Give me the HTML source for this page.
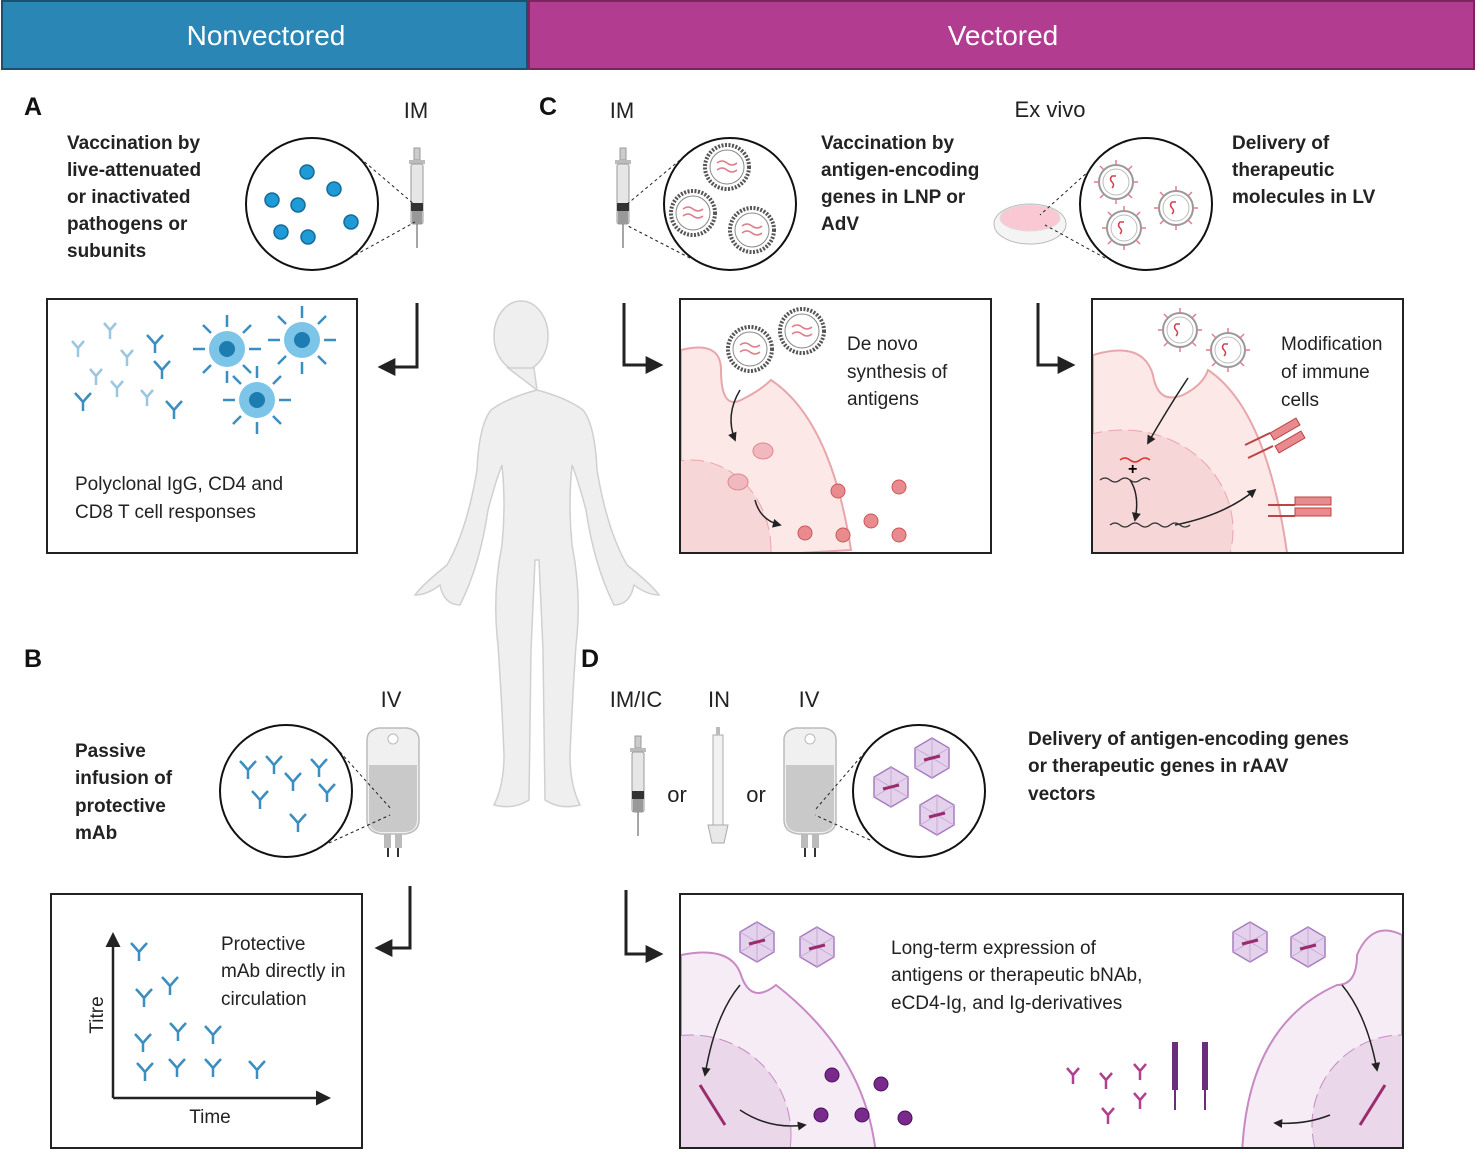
<!DOCTYPE html>
<html><head><meta charset="utf-8"><style>
html,body{margin:0;padding:0;background:#fff;width:1477px;height:1152px;overflow:hidden}
svg{display:block}
text{font-family:"Liberation Sans",sans-serif}
.b{font-weight:bold;font-size:19px;fill:#222}
.n{font-size:19px;fill:#222}
.l{font-size:22px;fill:#222}
.L{font-size:25px;font-weight:bold;fill:#111}
</style></head><body>
<svg width="1477" height="1152" viewBox="0 0 1477 1152" xmlns="http://www.w3.org/2000/svg">
<defs>
<g id="ab"><path d="M0 0 L0 9 M0 0 L-6 -7 M0 0 L6 -7 M-3 -3.5 L-8 -9 M3 -3.5 L8 -9" stroke="#3b8fc0" stroke-width="2.5" fill="none"/></g>
<g id="abl"><path d="M0 0 L0 9 M0 0 L-6 -7 M0 0 L6 -7" stroke="#9ac6df" stroke-width="2.5" fill="none"/></g>
<g id="abp"><path d="M0 0 L0 9 M0 0 L-6 -7 M0 0 L6 -7" stroke="#b1418f" stroke-width="2.5" fill="none"/></g>
<g id="lnp"><circle r="22" fill="#fff" stroke="#555" stroke-width="4" stroke-dasharray="2 1.5"/><circle r="17" fill="#fff" stroke="#888" stroke-width="1"/><path d="M-10 -4 q5 -4 10 0 t10 0 M-10 3 q5 -4 10 0 t10 0" stroke="#e07d8a" fill="none" stroke-width="1.5"/></g>
<g id="lv"><circle r="17" fill="#fff" stroke="#999" stroke-width="2"/><circle r="13" fill="#fff" stroke="#bbb"/><path d="M-4 6 q3 -3 0 -6 t0 -6 l4 0" stroke="#d04050" fill="none" stroke-width="1.5"/><path d="M0 -17 v-5 M0 17 v5 M-17 0 h-5 M17 0 h5 M12 12 l4 4 M-12 -12 l-4 -4 M12 -12 l4 -4 M-12 12 l-4 4" stroke="#e07d8a" stroke-width="1.5"/></g>
<g id="aav"><polygon points="0,-20 17,-10 17,10 0,20 -17,10 -17,-10" fill="#e4d2ec" stroke="#a87cc0" stroke-width="1.5"/><path d="M0 -20 L0 20 M-17 -10 L17 10 M17 -10 L-17 10" stroke="#c7a9d8" stroke-width="1"/><path d="M-8 2 L8 -2" stroke="#9a2c6e" stroke-width="3"/></g>
<g id="syr"><rect x="-3" y="-70" width="6" height="12" fill="#ccc" stroke="#999"/><rect x="-8" y="-58" width="16" height="4" fill="#bbb"/><rect x="-6" y="-54" width="12" height="60" rx="2" fill="#e6e6e6" stroke="#999"/><rect x="-6" y="-15" width="12" height="8" fill="#333"/><rect x="-5" y="-7" width="10" height="13" fill="#999"/><line x1="0" y1="6" x2="0" y2="30" stroke="#888" stroke-width="1.5"/></g>
<g id="bag"><path d="M-26 -55 q0 -10 12 -12 h28 q12 2 12 12 v80 q0 12 -14 14 h-24 q-14 -2 -14 -14z" fill="#f0f0f0" stroke="#bbb" stroke-width="1.5"/><circle cx="0" cy="-56" r="5" fill="#fff" stroke="#bbb"/><path d="M-24 -30 h48 v54 q0 12 -12 13 h-24 q-12 -1 -12 -13z" fill="#c9c9c9"/><rect x="-9" y="39" width="7" height="14" fill="#bbb"/><rect x="2" y="39" width="7" height="14" fill="#bbb"/><line x1="-5" y1="53" x2="-5" y2="62" stroke="#333" stroke-width="2"/><line x1="5" y1="53" x2="5" y2="62" stroke="#333" stroke-width="2"/></g>
<marker id="ah" viewBox="0 0 10 10" refX="8" refY="5" markerWidth="6" markerHeight="6" orient="auto"><path d="M0 0 L10 5 L0 10z" fill="#222"/></marker>
</defs>

<rect x="2" y="1" width="525" height="68" fill="#2a87b5" stroke="#1d4f70" stroke-width="2"/>
<text x="266" y="45" text-anchor="middle" style="font-size:28px;fill:#fff">Nonvectored</text>
<rect x="529" y="1" width="945" height="68" fill="#b23c8f" stroke="#7a2460" stroke-width="2"/>
<text x="1003" y="45" text-anchor="middle" style="font-size:28px;fill:#fff">Vectored</text>

<text x="24" y="115" class="L">A</text><text x="539" y="115" class="L">C</text>
<text x="24" y="667" class="L">B</text><text x="581" y="667" class="L">D</text>

<g fill="#efefef" stroke="#d0d0d0" stroke-width="1.5">
<ellipse cx="521" cy="336" rx="27" ry="35"/>
<path d="M508 368 h26 l3 22 q30 8 46 20 q12 15 14 60 q10 60 30 95 q25 20 32 30 q-12 0 -25 -10 q-4 20 -20 20 q-20 -40 -28 -95 q-8 -30 -14 -45 q-4 40 0 80 q10 50 4 100 q-4 60 -6 110 q0 30 10 50 q-20 5 -35 -5 l-2 -150 l-4 -90 h-4 l-4 90 l-2 150 q-15 10 -35 5 q10 -20 10 -50 q-2 -50 -6 -110 q-6 -50 4 -100 q4 -40 0 -80 q-6 15 -14 45 q-8 55 -28 95 q-16 0 -20 -20 q-13 10 -25 10 q7 -10 32 -30 q20 -35 30 -95 q2 -45 14 -60 q16 -12 46 -20z"/>
</g>

<text x="416" y="118" class="l" text-anchor="middle">IM</text>
<text class="b"><tspan x="67" y="149">Vaccination by</tspan><tspan x="67" y="176">live-attenuated</tspan><tspan x="67" y="203">or  inactivated</tspan><tspan x="67" y="230">pathogens or</tspan><tspan x="67" y="257">subunits</tspan></text>
<use href="#syr" x="417" y="218"/>
<circle cx="312" cy="204" r="66" fill="#fff" stroke="#111" stroke-width="2"/>
<line x1="360" y1="158" x2="415" y2="205" stroke="#222" stroke-dasharray="3 3"/><line x1="350" y1="258" x2="415" y2="222" stroke="#222" stroke-dasharray="3 3"/>
<g fill="#1e9ad6" stroke="#136c98" stroke-width="1.5"><circle cx="307" cy="172" r="7"/><circle cx="334" cy="189" r="7"/><circle cx="272" cy="200" r="7"/><circle cx="298" cy="205" r="7"/><circle cx="351" cy="222" r="7"/><circle cx="281" cy="232" r="7"/><circle cx="308" cy="237" r="7"/></g>
<path d="M417 303 v64 h-36" stroke="#222" stroke-width="3" fill="none" marker-end="url(#ah)"/>
<rect x="47" y="299" width="310" height="254" fill="#fff" stroke="#222" stroke-width="2"/>
<g><use href="#abl" x="110" y="330"/><use href="#abl" x="78" y="348"/><use href="#ab" x="155" y="344"/><use href="#abl" x="127" y="357"/><use href="#abl" x="96" y="376"/><use href="#ab" x="162" y="370"/><use href="#abl" x="117" y="388"/><use href="#ab" x="83" y="402"/><use href="#abl" x="147" y="397"/><use href="#ab" x="174" y="410"/></g>
<g stroke="#3b8fc0" stroke-width="2.5"><path d="M227 327 v-12 M227 371 v12 M205 349 h-12 M249 349 h12 M211 333 l-8 -8 M243 333 l8 -8 M211 365 l-8 8 M243 365 l8 8"/><path d="M302 318 v-12 M302 362 v12 M280 340 h-12 M324 340 h12 M286 324 l-8 -8 M318 324 l8 -8 M286 356 l-8 8 M318 356 l8 8"/><path d="M257 378 v-12 M257 422 v12 M235 400 h-12 M279 400 h12 M241 384 l-8 -8 M273 384 l8 -8 M241 416 l-8 8 M273 416 l8 8"/></g>
<g fill="#7cc4e8"><circle cx="227" cy="349" r="18"/><circle cx="302" cy="340" r="18"/><circle cx="257" cy="400" r="18"/></g>
<g fill="#1d7cb0"><circle cx="227" cy="349" r="8"/><circle cx="302" cy="340" r="8"/><circle cx="257" cy="400" r="8"/></g>
<text class="n"><tspan x="75" y="490">Polyclonal IgG, CD4 and</tspan><tspan x="75" y="518">CD8 T cell responses</tspan></text>

<text x="622" y="118" class="l" text-anchor="middle">IM</text>
<use href="#syr" x="623" y="218"/>
<circle cx="730" cy="204" r="66" fill="#fff" stroke="#111" stroke-width="2"/>
<line x1="680" y1="160" x2="626" y2="205" stroke="#222" stroke-dasharray="3 3"/><line x1="690" y1="258" x2="626" y2="225" stroke="#222" stroke-dasharray="3 3"/>
<use href="#lnp" x="727" y="167"/><use href="#lnp" x="693" y="213"/><use href="#lnp" x="752" y="230"/>
<text class="b"><tspan x="821" y="149">Vaccination by</tspan><tspan x="821" y="176">antigen-encoding</tspan><tspan x="821" y="203">genes in LNP or</tspan><tspan x="821" y="230">AdV</tspan></text>
<path d="M624 303 v62 h36" stroke="#222" stroke-width="3" fill="none" marker-end="url(#ah)"/>
<rect x="680" y="299" width="311" height="254" fill="#fff" stroke="#222" stroke-width="2"/>
<svg x="681" y="300" width="309" height="252"><path d="M0 50 q40 -10 40 20 q0 40 20 30 q20 -10 30 -20 q60 40 80 170 L0 260z" fill="#fde8e8" stroke="#e8a6ab" stroke-width="2"/><ellipse cx="10" cy="250" rx="80" ry="90" fill="#f7d6d8" stroke="#e8a6ab" stroke-dasharray="14 6"/></svg>
<use href="#lnp" x="750" y="349"/><use href="#lnp" x="802" y="331"/>
<g fill="#e98a8f" stroke="#c55"><circle cx="838" cy="491" r="7"/><circle cx="899" cy="487" r="7"/><circle cx="871" cy="521" r="7"/><circle cx="805" cy="533" r="7"/><circle cx="843" cy="535" r="7"/><circle cx="899" cy="535" r="7"/></g>
<g fill="#f2b8c0" stroke="#d88"><ellipse cx="763" cy="451" rx="10" ry="8"/><ellipse cx="738" cy="482" rx="10" ry="8"/></g>
<path d="M740 390 q-15 25 -5 50" stroke="#222" stroke-width="1.5" fill="none" marker-end="url(#ah)"/>
<path d="M755 500 q5 20 25 25" stroke="#222" stroke-width="1.5" fill="none" marker-end="url(#ah)"/>
<text class="n"><tspan x="847" y="350">De novo</tspan><tspan x="847" y="378">synthesis of</tspan><tspan x="847" y="405">antigens</tspan></text>

<text x="1050" y="117" class="l" text-anchor="middle">Ex vivo</text>
<ellipse cx="1030" cy="224" rx="36" ry="20" fill="#f4f4f4" stroke="#bbb"/><ellipse cx="1030" cy="218" rx="30" ry="13" fill="#f9c8d2" stroke="#ddd"/>
<circle cx="1146" cy="204" r="66" fill="#fff" stroke="#111" stroke-width="2"/>
<line x1="1090" y1="170" x2="1040" y2="215" stroke="#222" stroke-dasharray="3 3"/><line x1="1105" y1="258" x2="1045" y2="225" stroke="#222" stroke-dasharray="3 3"/>
<use href="#lv" x="1116" y="182"/><use href="#lv" x="1176" y="208"/><use href="#lv" x="1124" y="228"/>
<text class="b"><tspan x="1232" y="149">Delivery of</tspan><tspan x="1232" y="176">therapeutic</tspan><tspan x="1232" y="203">molecules in LV</tspan></text>
<path d="M1038 303 v62 h34" stroke="#222" stroke-width="3" fill="none" marker-end="url(#ah)"/>
<rect x="1092" y="299" width="311" height="254" fill="#fff" stroke="#222" stroke-width="2"/>
<svg x="1093" y="300" width="309" height="252"><path d="M0 55 q50 -15 60 20 q5 30 30 20 q20 -10 25 -25 q60 40 80 190 L0 260z" fill="#fde8e8" stroke="#e8a6ab" stroke-width="2"/><ellipse cx="30" cy="230" rx="110" ry="100" fill="#f7d6d8" stroke="#e8a6ab" stroke-dasharray="14 6"/></svg>
<use href="#lv" x="1180" y="330"/><use href="#lv" x="1228" y="350"/>
<g fill="#e98a8f" stroke="#b44"><rect x="1270" y="425" width="30" height="8" transform="rotate(-30 1285 429)"/><rect x="1275" y="438" width="30" height="8" transform="rotate(-30 1290 442)"/><rect x="1295" y="497" width="36" height="8"/><rect x="1295" y="508" width="36" height="8"/></g>
<path d="M1245 445 l25 -12 M1248 458 l25 -12 M1268 505 h27 M1268 516 h27" stroke="#b44" stroke-width="2"/>
<path d="M1188 378 q-20 30 -40 65" stroke="#222" stroke-width="1.5" fill="none" marker-end="url(#ah)"/>
<path d="M1175 525 q50 -10 80 -35" stroke="#222" stroke-width="1.5" fill="none" marker-end="url(#ah)"/>
<path d="M1130 480 q10 15 5 40" stroke="#222" stroke-width="1.5" fill="none" marker-end="url(#ah)"/>
<path d="M1120 460 q5 -4 10 0 t10 0 t10 0" stroke="#d33" fill="none" stroke-width="1.5"/>
<path d="M1100 480 q5 -4 10 0 t10 0 t10 0 t10 0 t10 0" stroke="#333" fill="none" stroke-width="1.2"/>
<path d="M1110 525 q5 -4 10 0 t10 0 t10 0 t10 0 t10 0 t10 0 t10 0 t10 0" stroke="#333" fill="none" stroke-width="1.2"/>
<text x="1128" y="474" style="font-size:16px;font-weight:bold">+</text>
<text class="n"><tspan x="1281" y="350">Modification</tspan><tspan x="1281" y="378">of immune</tspan><tspan x="1281" y="406">cells</tspan></text>

<text x="391" y="707" class="l" text-anchor="middle">IV</text>
<text class="b"><tspan x="75" y="757">Passive</tspan><tspan x="75" y="784">infusion of</tspan><tspan x="75" y="812">protective</tspan><tspan x="75" y="839">mAb</tspan></text>
<use href="#bag" x="393" y="795"/>
<circle cx="286" cy="791" r="66" fill="#fff" stroke="#111" stroke-width="2"/>
<line x1="340" y1="752" x2="392" y2="810" stroke="#222" stroke-dasharray="3 3"/><line x1="318" y1="848" x2="390" y2="815" stroke="#222" stroke-dasharray="3 3"/>
<g><use href="#ab" x="248" y="770"/><use href="#ab" x="274" y="765"/><use href="#ab" x="319" y="768"/><use href="#ab" x="293" y="782"/><use href="#ab" x="327" y="793"/><use href="#ab" x="260" y="800"/><use href="#ab" x="298" y="823"/></g>
<path d="M410 886 v62 h-32" stroke="#222" stroke-width="3" fill="none" marker-end="url(#ah)"/>
<rect x="51" y="894" width="311" height="254" fill="#fff" stroke="#222" stroke-width="2"/>
<path d="M113 1098 H328" stroke="#222" stroke-width="2.5" fill="none" marker-end="url(#ah)"/>
<path d="M113 1098 V935" stroke="#222" stroke-width="2.5" fill="none" marker-end="url(#ah)"/>
<text x="103" y="1015" class="n" transform="rotate(-90 103 1015)" text-anchor="middle">Titre</text>
<text x="210" y="1123" class="n" text-anchor="middle">Time</text>
<g><use href="#ab" x="139" y="952"/><use href="#ab" x="170" y="986"/><use href="#ab" x="144" y="998"/><use href="#ab" x="178" y="1032"/><use href="#ab" x="213" y="1035"/><use href="#ab" x="143" y="1043"/><use href="#ab" x="177" y="1068"/><use href="#ab" x="145" y="1072"/><use href="#ab" x="213" y="1068"/><use href="#ab" x="257" y="1070"/></g>
<text class="n"><tspan x="221" y="950">Protective</tspan><tspan x="221" y="977">mAb directly in</tspan><tspan x="221" y="1005">circulation</tspan></text>

<text x="636" y="707" class="l" text-anchor="middle">IM/IC</text>
<text x="719" y="707" class="l" text-anchor="middle">IN</text>
<text x="809" y="707" class="l" text-anchor="middle">IV</text>
<use href="#syr" x="638" y="806"/>
<text x="677" y="802" class="l" text-anchor="middle">or</text>
<rect x="713" y="735" width="10" height="90" fill="#f2f2f2" stroke="#aaa"/><path d="M708 825 h20 l-4 18 h-12z" fill="#e8e8e8" stroke="#aaa"/><rect x="716" y="727" width="4" height="8" fill="#bbb"/>
<text x="756" y="802" class="l" text-anchor="middle">or</text>
<use href="#bag" x="810" y="795"/>
<circle cx="919" cy="791" r="66" fill="#fff" stroke="#111" stroke-width="2"/>
<line x1="865" y1="752" x2="815" y2="810" stroke="#222" stroke-dasharray="3 3"/><line x1="870" y1="840" x2="815" y2="815" stroke="#222" stroke-dasharray="3 3"/>
<use href="#aav" x="932" y="758"/><use href="#aav" x="891" y="787"/><use href="#aav" x="937" y="815"/>
<text class="b"><tspan x="1028" y="745">Delivery of antigen-encoding genes</tspan><tspan x="1028" y="772">or therapeutic genes in rAAV</tspan><tspan x="1028" y="800">vectors</tspan></text>
<path d="M626 890 v64 h34" stroke="#222" stroke-width="3" fill="none" marker-end="url(#ah)"/>
<rect x="680" y="894" width="723" height="254" fill="#fff" stroke="#222" stroke-width="2"/>
<svg x="681" y="895" width="721" height="252"><path d="M0 60 q50 -10 60 20 q10 30 35 10 q90 70 100 170 L0 260z" fill="#f6ecf6" stroke="#c78ac4" stroke-width="2"/><ellipse cx="10" cy="240" rx="100" ry="100" fill="#ead7ea" stroke="#c78ac4" stroke-dasharray="14 6"/><path d="M721 40 q-30 -15 -45 20 q0 30 -20 30 q-90 40 -95 170 L721 260z" fill="#f6ecf6" stroke="#c78ac4" stroke-width="2"/><ellipse cx="721" cy="230" rx="90" ry="90" fill="#ead7ea" stroke="#c78ac4" stroke-dasharray="14 6"/></svg>
<use href="#aav" x="757" y="942"/><use href="#aav" x="817" y="947"/><use href="#aav" x="1250" y="942"/><use href="#aav" x="1308" y="947"/>
<g fill="#7a2a8a" stroke="#4a1060"><circle cx="832" cy="1075" r="7"/><circle cx="881" cy="1084" r="7"/><circle cx="821" cy="1115" r="7"/><circle cx="862" cy="1115" r="7"/><circle cx="905" cy="1118" r="7"/></g>
<path d="M740 985 q-25 30 -35 90" stroke="#222" stroke-width="1.5" fill="none" marker-end="url(#ah)"/>
<path d="M740 1110 q30 20 65 15" stroke="#222" stroke-width="1.5" fill="none" marker-end="url(#ah)"/>
<path d="M1342 985 q25 30 35 85" stroke="#222" stroke-width="1.5" fill="none" marker-end="url(#ah)"/>
<path d="M1330 1115 q-25 10 -55 8" stroke="#222" stroke-width="1.5" fill="none" marker-end="url(#ah)"/>
<path d="M700 1085 l25 40 M1385 1085 l-25 40" stroke="#9a2c6e" stroke-width="3"/>
<g><use href="#abp" x="1073" y="1075"/><use href="#abp" x="1106" y="1080"/><use href="#abp" x="1140" y="1071"/><use href="#abp" x="1140" y="1100"/><use href="#abp" x="1108" y="1115"/></g>
<g stroke="#6a2f7a" stroke-width="6"><line x1="1175" y1="1042" x2="1175" y2="1090"/><line x1="1205" y1="1042" x2="1205" y2="1090"/></g>
<g stroke="#6a2f7a" stroke-width="2"><line x1="1175" y1="1090" x2="1175" y2="1110"/><line x1="1205" y1="1090" x2="1205" y2="1110"/></g>
<text class="n"><tspan x="891" y="954">Long-term expression of</tspan><tspan x="891" y="981">antigens or therapeutic bNAb,</tspan><tspan x="891" y="1009">eCD4-Ig, and Ig-derivatives</tspan></text>
</svg>
</body></html>
